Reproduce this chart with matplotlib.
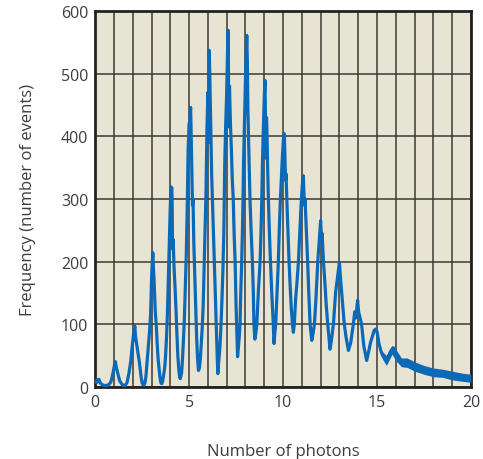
import numpy as np
import matplotlib
matplotlib.use("Agg")
import matplotlib.pyplot as plt

# photon-number histogram (x = photons, y = events)
photons = [
    0.00, 0.05, 0.10, 0.15, 0.20, 0.25, 0.30, 0.40, 0.50, 0.60, 0.70, 0.80, 0.85, 0.90, 0.95,
    1.00, 1.05, 1.08, 1.12, 1.15, 1.20, 1.25, 1.30, 1.40, 1.50, 1.60, 1.70,
    1.80, 1.85, 1.90, 1.95, 2.00, 2.05, 2.08, 2.11, 2.15, 2.20, 2.25, 2.30, 2.35, 2.40, 2.45, 2.50, 2.55, 2.60, 2.65, 2.70,
    2.75, 2.80, 2.85, 2.90, 2.95, 3.00, 3.04, 3.07, 3.10, 3.13, 3.16, 3.20, 3.25, 3.30, 3.35, 3.40, 3.45, 3.50, 3.55, 3.60,
    3.65, 3.70, 3.75, 3.80, 3.85, 3.90, 3.95, 4.00, 4.05, 4.08, 4.10, 4.12, 4.15, 4.20, 4.25, 4.30, 4.35, 4.40, 4.45, 4.50, 4.53,
    4.60, 4.65, 4.70, 4.75, 4.80, 4.85, 4.90, 4.95, 5.00, 5.05, 5.08, 5.10, 5.15, 5.18, 5.21, 5.25, 5.30, 5.35, 5.40, 5.45, 5.50,
    5.55, 5.60, 5.65, 5.70, 5.75, 5.80, 5.85, 5.90, 5.95, 6.00, 6.03, 6.07, 6.10, 6.15, 6.20, 6.25, 6.30, 6.35, 6.40, 6.45, 6.50, 6.53,
    6.57, 6.62, 6.67, 6.70, 6.75, 6.80, 6.85, 6.90, 6.95, 7.00, 7.05, 7.08, 7.10, 7.12, 7.15, 7.20, 7.25, 7.30, 7.35, 7.40, 7.45, 7.50, 7.55, 7.58,
    7.63, 7.67, 7.71, 7.75, 7.80, 7.84, 7.87, 7.90, 7.93, 7.97, 8.00, 8.04, 8.07, 8.10, 8.13, 8.16, 8.20, 8.24, 8.30, 8.37, 8.42, 8.45, 8.50, 8.55, 8.60,
    8.65, 8.70, 8.78, 8.83, 8.87, 8.90, 8.94, 8.98, 9.01, 9.04, 9.07, 9.09, 9.12, 9.15, 9.18, 9.22, 9.27, 9.33, 9.40, 9.45, 9.48, 9.52,
    9.56, 9.61, 9.68, 9.75, 9.80, 9.86, 9.92, 9.97, 10.02, 10.07, 10.10, 10.13, 10.16, 10.20, 10.26, 10.32, 10.38, 10.44, 10.50, 10.55,
    10.60, 10.67, 10.75, 10.82, 10.90, 10.96, 11.02, 11.08, 11.11, 11.14, 11.17, 11.24, 11.31, 11.37, 11.44, 11.53,
    11.60, 11.67, 11.75, 11.85, 11.92, 11.97, 12.00, 12.04, 12.08, 12.15, 12.22, 12.30, 12.38, 12.50,
    12.58, 12.68, 12.80, 12.90, 12.96, 13.00, 13.04, 13.08, 13.12, 13.19, 13.26, 13.35, 13.48,
    13.60, 13.74, 13.82, 13.88, 13.94, 13.97, 14.02, 14.10, 14.18, 14.30, 14.45,
    14.55, 14.65, 14.75, 14.85, 14.92, 15.00, 15.10, 15.20, 15.30, 15.40, 15.50, 15.60, 15.70, 15.80, 15.87, 15.95,
    16.05, 16.20, 16.40, 16.60, 16.85, 17.00, 17.30, 17.60, 18.00, 18.40, 18.80, 19.15, 19.50, 19.80, 20.00,
]
events = [
    8, 10, 7, 11, 12, 8, 5, 3, 2, 2, 3, 6, 9, 15, 22,
    30, 38, 40, 32, 28, 22, 16, 10, 5, 2, 2, 7,
    22, 32, 42, 58, 72, 85, 90, 97, 80, 70, 60, 50, 40, 28, 15, 6, 3, 3, 6, 16,
    35, 55, 75, 90, 115, 170, 200, 214, 190, 175, 150, 120, 100, 70, 45, 30, 15, 6, 5, 10,
    20, 30, 50, 80, 120, 175, 230, 290, 319, 318, 290, 220, 235, 190, 160, 125, 85, 50, 28, 15, 13,
    22, 45, 75, 110, 160, 210, 285, 380, 420, 425, 446, 420, 340, 290, 300, 230, 180, 125, 80, 45, 26,
    30, 45, 70, 95, 130, 190, 250, 310, 410, 470, 390, 537, 500, 420, 340, 290, 240, 190, 135, 95, 45, 21,
    38, 55, 80, 100, 140, 185, 250, 360, 420, 470, 540, 569, 470, 415, 480, 420, 380, 330, 300, 240, 200, 130, 75, 48,
    65, 80, 100, 150, 200, 250, 300, 360, 400, 450, 490, 530, 561, 520, 440, 400, 350, 300, 250, 199, 150, 100, 76, 85, 98,
    130, 160, 200, 250, 300, 350, 400, 440, 470, 489, 420, 365, 430, 400, 350, 300, 250, 200, 150, 120, 100, 69,
    85, 100, 150, 200, 250, 300, 340, 370, 395, 404, 370, 330, 340, 300, 250, 200, 160, 125, 100, 87,
    100, 140, 170, 200, 250, 290, 320, 337, 310, 290, 300, 250, 199, 150, 100, 74,
    85, 100, 140, 200, 230, 250, 265, 240, 245, 200, 170, 130, 100, 60,
    75, 100, 151, 175, 190, 199, 180, 165, 151, 125, 100, 80, 58,
    70, 100, 120, 110, 130, 138, 120, 110, 100, 65, 42,
    55, 70, 80, 90, 92, 88, 70, 58, 50, 45, 42, 48, 55, 60, 62, 56,
    48, 40, 37, 39, 36, 32, 29, 26, 23, 22, 19, 17, 15, 14, 13,
]

# noise band in the tail (upper / lower edge of the trace)
tail_x = [15.3, 15.5, 15.8, 16.0, 16.3, 16.6, 17.0, 17.5, 18.0, 18.5, 19.0, 19.5, 20.0]
tail_hi = [56, 50, 66, 60, 46, 46, 40, 34, 30, 28, 25, 22, 20]
tail_lo = [44, 34, 52, 42, 32, 31, 25, 20, 16, 15, 11, 9, 7]

blue = "#0b69b7"
ink = "#3c3c3c"

plt.rcParams["font.family"] = ["Open Sans", "DejaVu Sans"]

fig = plt.figure(figsize=(4.83, 4.60), dpi=100)
ax = fig.add_axes([0.197, 0.157, 0.778, 0.817])
ax.set_facecolor("#e8e4d3")

ax.plot(photons, events, color=blue, lw=2.3, zorder=3)
ax.fill_between(tail_x, tail_lo, tail_hi, color=blue, lw=0, zorder=3)

ax.set_xlim(0, 20)
ax.set_ylim(0, 600)
ax.set_xticks([0, 5, 10, 15, 20])
ax.set_xticks(np.arange(0, 21), minor=True)
ax.set_yticks([0, 100, 200, 300, 400, 500, 600])

ax.grid(True, which="both", axis="x", color="#3a3833", lw=1.1, zorder=1)
ax.grid(True, which="major", axis="y", color="#3a3833", lw=1.1, zorder=1)
ax.set_axisbelow(True)

ax.tick_params(which="both", length=0, labelsize=11.5, labelcolor=ink, pad=5)
for s in ax.spines.values():
    s.set_linewidth(2)
    s.set_color("#222222")

ax.set_xlabel("Number of photons", fontsize=12, color=ink, labelpad=24)
ax.set_ylabel("Frequency (number of events)", fontsize=12, color=ink, labelpad=18)

plt.savefig("out.png", dpi=100)
